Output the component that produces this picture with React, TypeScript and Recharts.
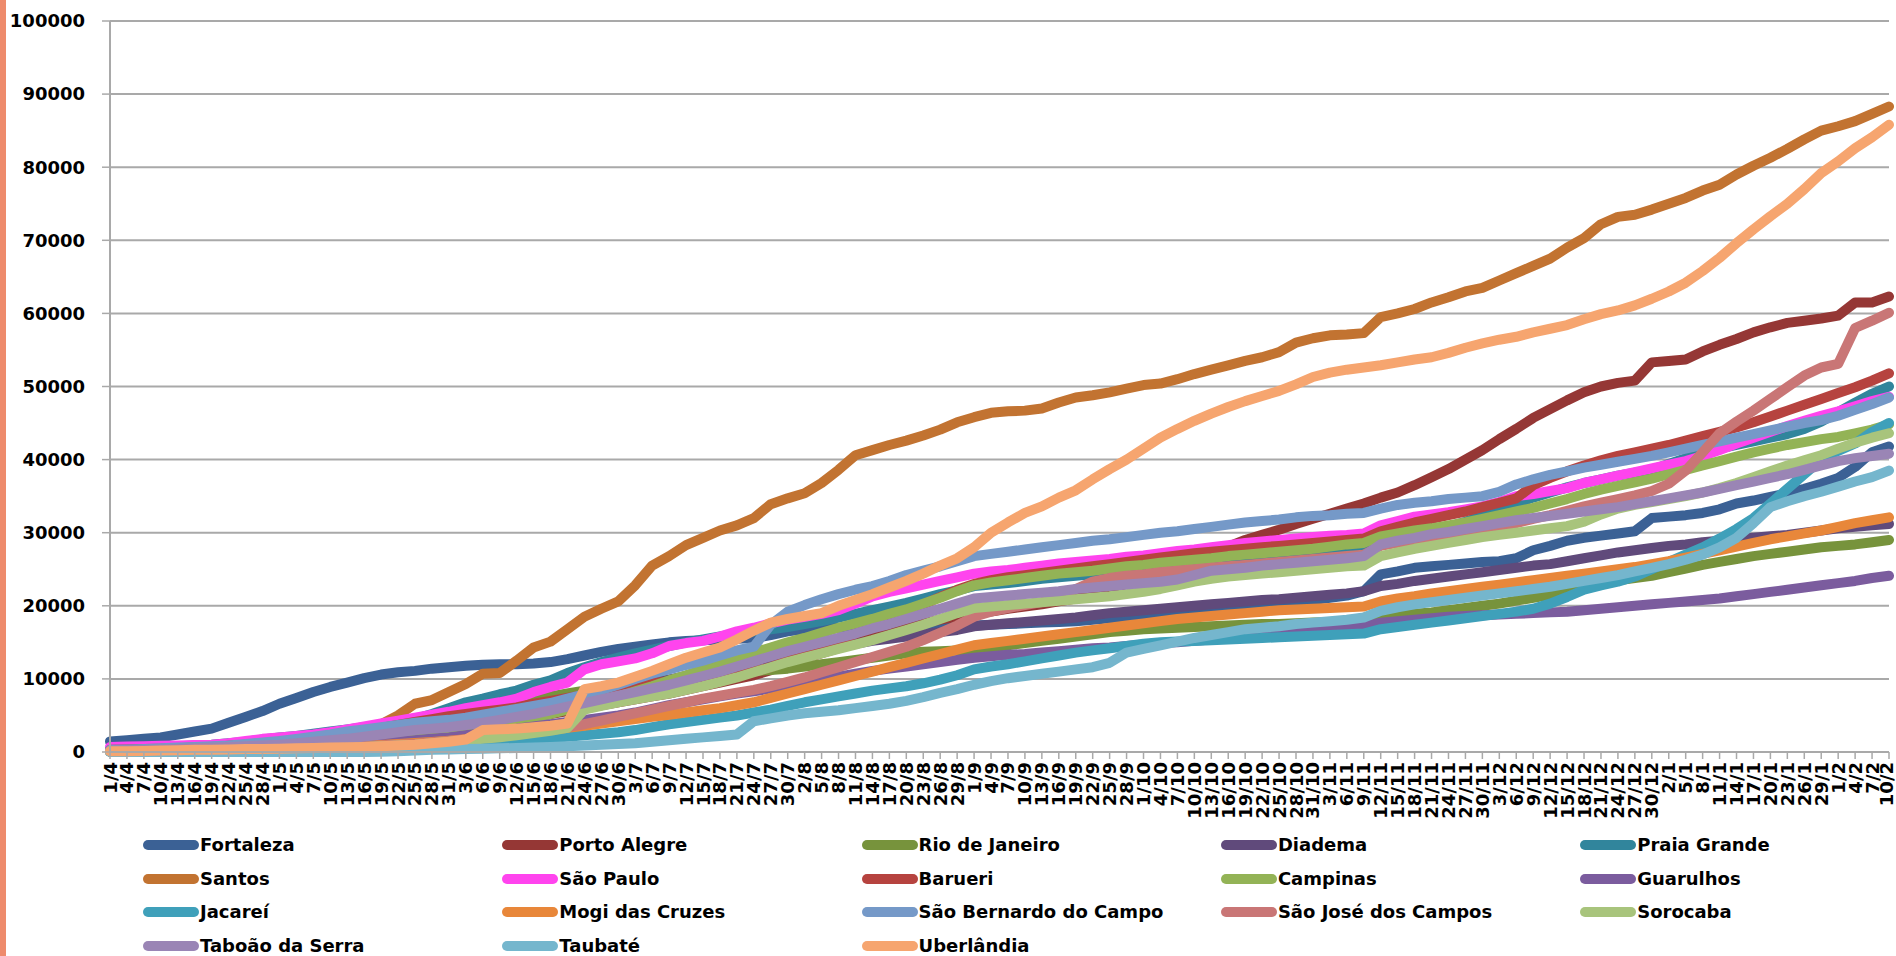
import React from 'react';
import { LineChart, Line, XAxis, YAxis, CartesianGrid } from 'recharts';

const dates = ['1/4','4/4','7/4','10/4','13/4','16/4','19/4','22/4','25/4','28/4',
'1/5','4/5','7/5','10/5','13/5','16/5','19/5','22/5','25/5','28/5','31/5',
'3/6','6/6','9/6','12/6','15/6','18/6','21/6','24/6','27/6','30/6',
'3/7','6/7','9/7','12/7','15/7','18/7','21/7','24/7','27/7','30/7',
'2/8','5/8','8/8','11/8','14/8','17/8','20/8','23/8','26/8','29/8',
'1/9','4/9','7/9','10/9','13/9','16/9','19/9','22/9','25/9','28/9',
'1/10','4/10','7/10','10/10','13/10','16/10','19/10','22/10','25/10','28/10','31/10',
'3/11','6/11','9/11','12/11','15/11','18/11','21/11','24/11','27/11','30/11',
'3/12','6/12','9/12','12/12','15/12','18/12','21/12','24/12','27/12','30/12',
'2/1','5/1','8/1','11/1','14/1','17/1','20/1','23/1','26/1','29/1',
'1/2','4/2','7/2','10/2'];

const fortaleza = [1450,1600,1800,2000,2400,2800,3200,4000,4800,5600,
6600,7400,8200,8900,9500,10100,10600,10900,11100,11400,
11600,11800,11950,12000,12000,12100,12300,12700,13200,13700,
14100,14400,14700,15000,15200,15300,15400,15500,15600,16000,
16500,16800,16900,17000,17000,17050,17100,17100,17150,17200,
17250,17300,17400,17500,17600,17700,17800,17900,18100,18300,
18500,18700,18900,19100,19300,19500,19700,19900,20100,20300,
20500,20800,21100,21400,22000,24300,24700,25200,25400,25600,
25800,26000,26100,26500,27600,28200,28900,29300,29600,29900,
30200,32000,32200,32400,32700,33200,34000,34400,34900,35400,
36000,36700,37500,39000,41000,41800];

const portoAlegre = [150,200,250,300,400,500,600,700,800,900,
1000,1150,1300,1500,1700,1900,2100,2300,2500,2700,
3000,3300,3600,4000,4400,4800,5200,5600,6000,6400,
6800,7200,7600,8000,8500,9000,9500,10000,10500,11200,
12000,12800,13500,14200,14900,15600,16300,17000,17600,18100,
18500,18900,19200,19600,19900,20200,20600,21000,21600,22300,
23000,23700,24500,25400,26300,27200,28100,29000,29700,30400,
31200,31900,32600,33300,34000,34800,35500,36500,37600,38700,
40000,41300,42800,44200,45700,46900,48100,49200,50000,50500,
50800,53300,53500,53700,54800,55700,56500,57400,58100,58700,
59000,59300,59700,61500,61500,62300];

const rioDeJaneiro = [100,150,200,300,400,500,600,700,800,1000,
1200,1400,1600,1900,2200,2500,2900,3300,3700,4100,
4500,5000,5500,6000,6500,7200,7600,8000,8400,8700,
9000,9300,9600,9900,10200,10500,10800,11000,11100,11200,
11400,11700,12000,12300,12600,12900,13200,13500,13700,13800,
13900,14000,14300,14600,14900,15200,15500,15800,16100,16400,
16600,16800,16900,17000,17100,17200,17300,17400,17500,17500,
17600,17700,17800,17900,18000,18400,18700,18900,19100,19400,
19700,20000,20300,20700,21100,21500,22000,22500,23000,23500,
23800,24100,24600,25100,25600,26000,26400,26800,27100,27400,
27700,28000,28200,28400,28700,29000];

const diadema = [300,350,400,450,500,700,850,1000,1150,1300,
1500,1700,1950,2200,2500,2800,3100,3400,3700,4000,
4300,4700,5100,5500,5900,6300,6700,7100,7500,7900,
8400,8900,9400,9900,10400,10900,11400,11900,12400,12900,
13300,13600,14000,14400,14800,15200,15500,15800,16100,16400,
16700,17200,17400,17600,17800,18000,18200,18400,18700,19000,
19200,19400,19600,19800,20000,20200,20400,20600,20800,20900,
21100,21300,21500,21700,22000,22700,23000,23400,23700,24000,
24300,24600,24900,25200,25500,25700,26100,26500,26900,27300,
27600,27900,28200,28400,28700,28900,29100,29300,29500,29700,
30000,30300,30600,30800,31000,31200];

const praiaGrande = [500,550,600,700,800,900,1000,1200,1400,1700,
2000,2200,2500,2800,3100,3400,3700,4000,4500,5200,
6000,6800,7300,7900,8400,9200,9800,10800,11600,12300,
12900,13500,14000,14500,15000,15400,15800,16200,16500,16800,
17100,17500,17900,18400,18900,19400,19900,20400,21000,21600,
22100,22700,22900,23100,23400,23700,23900,24100,24300,24500,
24700,24900,25100,25300,25600,25800,26000,26200,26500,26800,
27000,27300,27500,27800,28000,28600,29100,29600,30200,30800,
31500,32300,33100,34000,34800,35500,36200,36800,37300,37800,
38200,38600,39400,40200,40900,41500,42000,42500,43000,43500,
44200,45200,46500,47800,49000,50000];

const santos = [300,400,500,600,700,800,900,1000,1200,1400,
1600,1800,2000,2300,2600,3000,3800,5000,6600,7100,
8200,9300,10700,10800,12500,14300,15100,16800,18500,19600,
20600,22800,25500,26800,28300,29300,30300,31000,32000,33900,
34700,35400,36800,38600,40600,41300,42000,42600,43300,44100,
45100,45800,46400,46600,46700,47000,47800,48500,48800,49200,
49700,50200,50400,51000,51700,52300,52900,53500,54000,54700,
56000,56600,57000,57100,57300,59500,60000,60600,61500,62200,
63000,63500,64500,65500,66500,67500,69000,70300,72200,73200,
73500,74200,75000,75800,76800,77600,79000,80200,81300,82500,
83800,85000,85600,86300,87300,88300];

const saoPaulo = [700,750,800,850,900,950,1000,1200,1500,1800,
2000,2200,2400,2700,3100,3500,3900,4300,4700,5100,
5500,6000,6400,6800,7300,8200,8900,9500,11300,12000,
12400,12800,13500,14500,14900,15200,15800,16500,17000,17600,
18100,18500,18900,19400,20300,21300,21900,22400,22900,23400,
23900,24400,24700,24900,25200,25500,25800,26000,26200,26400,
26700,26900,27200,27500,27700,28000,28300,28600,28800,29000,
29200,29400,29600,29700,29900,31000,31600,32200,32500,32800,
33200,33600,34200,35000,35300,35700,36100,36800,37300,37800,
38300,38800,39300,39800,40500,41300,42200,43000,43800,44600,
45300,46000,46600,47300,48000,48600];

const barueri = [300,350,400,450,500,600,700,850,1000,1200,
1400,1600,1800,2100,2400,2800,3300,3700,4100,4500,
4900,5200,5500,5800,6100,6600,7000,7400,7800,8200,
8600,9000,9400,9700,10000,10300,10500,10700,11000,11600,
12500,13300,14200,15200,16200,17200,18200,19200,20200,21200,
22200,23000,23500,23900,24200,24500,24800,25100,25400,25700,
26000,26300,26600,26900,27200,27400,27600,27800,28000,28200,
28400,28600,28800,29000,29200,30200,30800,31400,31900,32400,
32900,33500,34100,34700,36500,37500,38400,39200,39900,40500,
41000,41500,42000,42600,43200,43800,44400,45100,45900,46700,
47500,48300,49100,49900,50800,51800];

const campinas = [100,120,150,200,250,300,350,400,500,600,
700,800,900,1000,1200,1400,1600,1800,2000,2300,
2600,2900,3300,3700,4200,4700,5200,5800,6400,7000,
7600,8300,9000,9800,10500,11300,12000,12800,13600,14300,
15000,15600,16300,17000,17600,18200,18900,19500,20300,21100,
22000,22800,23200,23500,23800,24100,24400,24600,24800,25100,
25400,25600,25900,26100,26300,26500,26800,27000,27200,27400,
27600,27800,28100,28400,28600,29500,29900,30300,30600,31000,
31400,31900,32400,32900,33400,34000,34600,35300,35900,36400,
36900,37400,38000,38600,39200,39800,40400,41000,41500,42000,
42400,42800,43100,43600,44100,44800];

const guarulhos = [50,60,80,100,130,170,220,280,350,430,
520,620,730,850,980,1120,1270,1430,1600,1800,
2000,2300,2600,2900,3200,3500,3800,4100,4400,4700,
5000,5400,5900,6400,6800,7200,7600,8000,8300,8700,
9100,9500,9900,10300,10700,11100,11400,11700,12000,12300,
12600,12900,13100,13300,13400,13600,13800,14000,14200,14300,
14500,14700,14900,15000,15200,15400,15600,15800,16000,16200,
16400,16600,16800,17000,17200,17700,17900,18100,18300,18500,
18600,18700,18800,18900,19000,19100,19200,19400,19600,19800,
20000,20200,20400,20600,20800,21000,21300,21600,21900,22200,
22500,22800,23100,23400,23800,24100];

const jacarei = [0,0,0,0,0,50,80,100,120,150,
200,250,300,350,400,450,500,600,700,800,
900,1000,1150,1300,1500,1700,1900,2100,2300,2500,
2700,3000,3400,3800,4100,4400,4700,5000,5400,5800,
6300,6800,7200,7600,8000,8400,8700,9000,9400,9900,
10500,11300,11700,12000,12400,12800,13200,13600,13900,14200,
14500,14800,15000,15100,15200,15300,15400,15500,15600,15700,
15800,15900,16000,16100,16200,16800,17100,17400,17700,18000,
18300,18600,18900,19200,19600,20300,21200,22200,22800,23300,
24000,25000,26000,27000,28000,29200,30500,32000,34000,36000,
38000,40000,41200,42200,43800,45000];

const mogiDasCruzes = [50,60,80,100,120,150,180,220,270,320,
380,450,530,620,720,830,950,1080,1220,1380,
1550,1750,1950,2200,2450,2700,3000,3300,3600,3900,
4200,4500,4800,5100,5400,5700,6000,6400,6800,7400,
8000,8600,9200,9800,10400,11000,11600,12200,12800,13400,
14000,14600,14900,15200,15500,15800,16100,16400,16700,17000,
17300,17600,17900,18200,18400,18600,18800,19000,19200,19400,
19500,19600,19700,19800,19900,20600,21000,21300,21700,22000,
22300,22600,22900,23200,23500,23800,24100,24400,24700,25000,
25300,25700,26100,26600,27100,27600,28100,28600,29100,29500,
29900,30300,30800,31300,31700,32100];

const saoBernardo = [300,350,400,500,600,700,800,900,1100,1300,
1500,1800,2100,2400,2800,3100,3400,3700,4000,4200,
4400,4700,5100,5500,5900,6300,6700,7300,7900,8500,
9200,10000,10700,11300,11900,12500,13200,13900,14400,17400,
19200,20100,20900,21600,22200,22700,23400,24200,24800,25400,
26100,26800,27100,27400,27700,28000,28300,28600,28900,29100,
29400,29700,30000,30200,30500,30800,31100,31400,31600,31800,
32100,32300,32400,32600,32700,33300,33800,34100,34300,34600,
34800,35000,35600,36600,37300,37900,38400,38900,39300,39700,
40100,40500,41000,41500,42000,42500,43000,43500,44000,44500,
45000,45400,46000,46800,47600,48500];

const saoJose = [50,60,80,100,130,160,200,250,300,350,
400,450,500,600,700,800,900,1000,1100,1300,
1500,1700,1900,2100,2400,2700,3000,3400,3800,4300,
4800,5300,5800,6300,6800,7300,7700,8100,8500,9000,
9600,10200,10900,11600,12300,13000,13700,14400,15300,16300,
17300,18500,19200,19700,20100,20500,21300,22300,23300,23800,
24100,24300,24600,24800,25000,25200,25400,25600,25800,26000,
26200,26400,26600,26800,27000,28200,28600,29000,29300,29600,
29900,30300,30800,31300,31900,32400,33000,33600,34100,34600,
35100,35700,36700,38500,41000,43600,45200,46700,48300,49900,
51500,52600,53100,58000,59000,60100];

const sorocaba = [50,60,80,100,120,150,180,200,250,300,
350,400,450,500,600,700,800,900,1000,1200,
1400,1600,1800,2000,2300,2600,2900,3300,5800,6300,
6800,7200,7600,8000,8500,9000,9600,10200,10900,11600,
12300,12900,13500,14100,14700,15300,16000,16700,17400,18200,
19000,19700,19900,20100,20300,20500,20700,20900,21100,21300,
21600,21900,22300,22800,23300,23700,24000,24200,24400,24600,
24800,25000,25200,25400,25500,26800,27300,27800,28200,28600,
29000,29400,29700,30000,30300,30600,30900,31500,32500,33300,
33800,34200,34600,35000,35500,36100,36800,37600,38400,39200,
39900,40600,41500,42300,43000,43600];

const taboao = [200,250,300,350,400,500,600,700,800,900,
1000,1200,1400,1600,1800,2100,2400,2700,3000,3200,
3400,3700,4000,4400,4800,5200,5700,6200,6700,7200,
7700,8200,8700,9200,9800,10400,11000,11700,12400,13100,
13800,14400,15000,15600,16200,16900,17500,18200,18900,19600,
20300,21000,21200,21400,21600,21800,22000,22300,22500,22700,
22900,23100,23300,23600,24200,24800,25000,25200,25500,25700,
25900,26100,26300,26500,26800,28400,28900,29300,29800,30100,
30500,30900,31300,31700,32000,32300,32600,32900,33200,33500,
33900,34300,34700,35100,35500,36000,36500,37000,37500,38000,
38600,39200,39800,40200,40500,40800];

const taubate = [0,0,0,0,0,0,0,0,0,0,
0,0,0,0,0,0,50,100,200,300,
350,400,450,500,550,620,700,800,900,1000,
1100,1200,1400,1600,1800,2000,2200,2400,4200,4600,
5000,5300,5500,5700,6000,6300,6600,7000,7500,8100,
8600,9200,9700,10100,10400,10700,11000,11300,11600,12200,
13600,14100,14600,15100,15600,16000,16400,16800,17000,17200,
17500,17700,17900,18100,18400,19300,19800,20200,20500,20800,
21100,21400,21700,22000,22300,22600,23000,23400,23800,24200,
24700,25200,25700,26300,27000,28000,29300,31300,33500,34300,
35000,35600,36300,37000,37600,38500];

const uberlandia = [100,100,150,200,250,300,300,350,400,400,
450,500,550,600,650,700,800,900,1000,1200,
1400,1700,3000,3100,3200,3400,3600,3900,8600,9000,
9500,10300,11100,12000,12900,13600,14300,15400,16600,17700,
18200,18600,19000,20000,20800,21600,22500,23400,24400,25500,
26500,28000,30000,31400,32700,33600,34800,35800,37300,38700,
40000,41500,43000,44200,45300,46300,47200,48000,48700,49400,
50300,51300,51900,52300,52600,52900,53300,53700,54000,54600,
55300,55900,56400,56800,57400,57900,58400,59200,59900,60400,
61100,62000,63000,64200,65800,67600,69600,71500,73300,75000,
77000,79200,80800,82600,84100,85800];

const yTicks = [0, 10000, 20000, 30000, 40000, 50000, 60000, 70000, 80000, 90000, 100000];

const series = [
  { name: 'Fortaleza', values: fortaleza, color: '#3B6195' },
  { name: 'Porto Alegre', values: portoAlegre, color: '#953735' },
  { name: 'Rio de Janeiro', values: rioDeJaneiro, color: '#77933C' },
  { name: 'Diadema', values: diadema, color: '#604A7B' },
  { name: 'Praia Grande', values: praiaGrande, color: '#31859C' },
  { name: 'Santos', values: santos, color: '#C27331' },
  { name: 'São Paulo', values: saoPaulo, color: '#FF44EE' },
  { name: 'Barueri', values: barueri, color: '#B6433F' },
  { name: 'Campinas', values: campinas, color: '#93B356' },
  { name: 'Guarulhos', values: guarulhos, color: '#7B5C9E' },
  { name: 'Jacareí', values: jacarei, color: '#3FA0BA' },
  { name: 'Mogi das Cruzes', values: mogiDasCruzes, color: '#E8873A' },
  { name: 'São Bernardo do Campo', values: saoBernardo, color: '#7599C8' },
  { name: 'São José dos Campos', values: saoJose, color: '#C97676' },
  { name: 'Sorocaba', values: sorocaba, color: '#A8C47C' },
  { name: 'Taboão da Serra', values: taboao, color: '#9A85B5' },
  { name: 'Taubaté', values: taubate, color: '#75B6CD' },
  { name: 'Uberlândia', values: uberlandia, color: '#F6A56F' },
];

const data = dates.map((d, i) => {
  const row: Record<string, string | number> = { date: d };
  series.forEach((s) => { row[s.name] = s.values[i]; });
  return row;
});

const AXIS_FONT = 'DejaVu Sans';
const GRID = '#A9A9A9';
const CHART_W = 1896;

const XTick = (props: any) => {
  const { x, y, payload } = props;
  const tx = Math.min(x, CHART_W - 10);
  return (
    <text
      x={tx}
      y={y}
      transform={`rotate(-90 ${tx} ${y})`}
      textAnchor="end"
      dominantBaseline="central"
      fontFamily={AXIS_FONT}
      fontWeight="bold"
      fontSize={18}
      fill="#000"
    >
      {payload.value}
    </text>
  );
};

const LEG_TEXT_X0 = 200;
const LEG_DX = 359.3;
const LEG_LINE_W = 56;
const LEG_Y0 = 845;
const LEG_DY = 33.6;

export default function App() {
  return (
    <div style={{ position: 'absolute', left: 0, top: 0, width: CHART_W, height: 956, background: '#fff', overflow: 'hidden' }}>
      <div style={{ position: 'absolute', left: 0, top: 0, width: 6, height: 956, background: '#EE8B6C' }} />
      <div style={{ position: 'absolute', left: 0, top: 0 }}>
        <LineChart width={CHART_W} height={830} data={data} margin={{ top: 21, right: 7, bottom: 0, left: 0 }}>
          <CartesianGrid vertical={false} stroke={GRID} strokeWidth={2} />
          <XAxis
            dataKey="date"
            interval={0}
            tick={<XTick />}
            tickSize={7}
            tickMargin={3}
            height={78}
            axisLine={{ stroke: GRID, strokeWidth: 2 }}
            tickLine={{ stroke: GRID, strokeWidth: 1.5 }}
          />
          <YAxis
            domain={[0, 100000]}
            ticks={yTicks}
            interval={0}
            width={110}
            tickSize={8}
            tickMargin={17}
            axisLine={{ stroke: GRID, strokeWidth: 2 }}
            tickLine={{ stroke: GRID, strokeWidth: 1.5 }}
            tick={{ fontFamily: AXIS_FONT, fontWeight: 'bold', fontSize: 18, fill: '#000' }}
          />
          {series.map((s) => (
            <Line
              key={s.name}
              type="linear"
              dataKey={s.name}
              stroke={s.color}
              strokeWidth={10}
              strokeLinejoin="round"
              strokeLinecap="round"
              dot={false}
              activeDot={false}
              isAnimationActive={false}
            />
          ))}
        </LineChart>
      </div>
      {series.map((s, i) => {
        const col = i % 5;
        const row = Math.floor(i / 5);
        const textLeft = LEG_TEXT_X0 + col * LEG_DX;
        const cy = LEG_Y0 + row * LEG_DY;
        return (
          <div key={s.name} style={{ position: 'absolute', left: textLeft - LEG_LINE_W - 1, top: cy - 9, height: 18, display: 'flex', alignItems: 'center', whiteSpace: 'nowrap' }}>
            <div style={{ width: LEG_LINE_W, height: 10, borderRadius: 5, background: s.color }} />
            <span style={{ marginLeft: 1, fontFamily: AXIS_FONT, fontWeight: 700, fontSize: 18, lineHeight: '18px', color: '#000' }}>{s.name}</span>
          </div>
        );
      })}
    </div>
  );
}
